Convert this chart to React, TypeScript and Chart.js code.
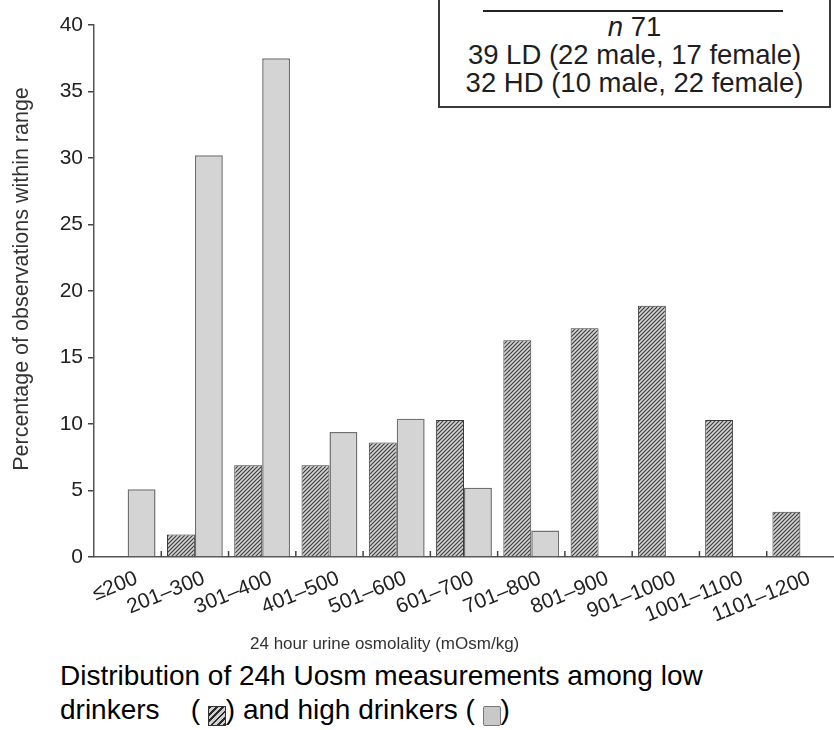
import React, { useEffect, useRef } from "react";
import { Chart, registerables } from "chart.js";

Chart.register(...registerables);

const categories = ["≤200", "201–300", "301–400", "401–500", "501–600", "601–700", "701–800", "801–900", "901–1000", "1001–1100", "1101–1200"];
const lowDrinkers = [0, 1.7, 6.9, 6.9, 8.6, 10.3, 16.3, 17.2, 18.9, 10.3, 3.4];
const highDrinkers = [5.1, 30.2, 37.5, 9.4, 10.4, 5.2, 2.0, 0, 0, 0, 0];
const yMin = 0;
const yMax = 40;
const yStep = 5;
const yTitle = "Percentage of observations within range";
const xTitle = "24 hour urine osmolality (mOsm/kg)";
const boxLines = ["71", "39 LD (22 male, 17 female)", "32 HD (10 male, 22 female)"];

const FONT = "'Liberation Sans', Arial, Helvetica, sans-serif";
const W = 834;
const H = 640;
const AXIS_LEFT = 94;
const BASE_Y = 557;
const TOP_Y = 25;

function makeHatch(): CanvasPattern | string {
  const s = 4;
  const c = document.createElement("canvas");
  c.width = s;
  c.height = s;
  const g = c.getContext("2d");
  if (!g) return "#888";
  g.fillStyle = "#d2d2d2";
  g.fillRect(0, 0, s, s);
  g.strokeStyle = "#3a3a3a";
  g.lineWidth = 1.1;
  g.beginPath();
  g.moveTo(-1, s + 1);
  g.lineTo(s + 1, -1);
  g.moveTo(-1, 1);
  g.lineTo(1, -1);
  g.moveTo(s - 1, s + 1);
  g.lineTo(s + 1, s - 1);
  g.stroke();
  const p = g.createPattern(c, "repeat");
  return p || "#888";
}

const innerTicks = {
  id: "innerTicks",
  afterDatasetsDraw(chart: any) {
    const xs = chart.scales.x;
    const ctx = chart.ctx;
    const bottom = chart.chartArea.bottom;
    ctx.save();
    ctx.strokeStyle = "#444";
    ctx.lineWidth = 1.5;
    for (let i = 1; i < categories.length; i++) {
      const x = (xs.getPixelForValue(i - 1) + xs.getPixelForValue(i)) / 2;
      ctx.beginPath();
      ctx.moveTo(x, bottom);
      ctx.lineTo(x, bottom - 6);
      ctx.stroke();
    }
    ctx.restore();
  },
};

const yTitlePlugin = {
  id: "yTitlePlugin",
  afterDraw(chart: any) {
    const ctx = chart.ctx;
    const area = chart.chartArea;
    ctx.save();
    ctx.translate(22, (area.top + area.bottom) / 2 - 12);
    ctx.rotate(-Math.PI / 2);
    ctx.font = `21.5px ${FONT}`;
    ctx.fillStyle = "#333";
    ctx.textAlign = "center";
    ctx.textBaseline = "middle";
    ctx.fillText(yTitle, 0, 0);
    ctx.restore();
  },
};

export default function App() {
  const ref = useRef<HTMLCanvasElement | null>(null);

  useEffect(() => {
    if (!ref.current) return;
    const hatch = makeHatch();
    const chart = new Chart(ref.current, {
      type: "bar",
      data: {
        labels: categories,
        datasets: [
          {
            label: "Low drinkers",
            data: lowDrinkers.map((v) => (v === 0 ? null : v)),
            backgroundColor: hatch as any,
            borderColor: "#3a3a3a",
            borderWidth: 1,
            categoryPercentage: 0.83,
            barPercentage: 1,
          },
          {
            label: "High drinkers",
            data: highDrinkers.map((v) => (v === 0 ? null : v)),
            backgroundColor: "#d4d4d4",
            borderColor: "#707070",
            borderWidth: 1.5,
            categoryPercentage: 0.83,
            barPercentage: 1,
          },
        ],
      },
      options: {
        responsive: false,
        animation: false,
        devicePixelRatio: 1,
        layout: { padding: { top: TOP_Y, right: 0, left: 0, bottom: 0 } },
        plugins: {
          legend: { display: false },
          tooltip: { enabled: false },
          title: { display: false },
        },
        scales: {
          x: {
            grid: { display: false, drawTicks: false },
            border: { display: true, color: "#555", width: 1.5 },
            ticks: {
              autoSkip: false,
              maxRotation: 22,
              minRotation: 22,
              padding: 9,
              labelOffset: 9,
              color: "#222",
              font: { family: FONT, size: 21 },
            },
            afterFit(scale: any) {
              scale.height = H - BASE_Y;
              scale.paddingLeft = 0;
              scale.paddingRight = 0;
            },
          },
          y: {
            min: yMin,
            max: yMax,
            grid: { drawOnChartArea: false, drawTicks: true, tickLength: 6, color: "#444", lineWidth: 1.5 },
            border: { display: true, color: "#555", width: 1.5 },
            ticks: {
              stepSize: yStep,
              padding: 5,
              color: "#222",
              font: { family: FONT, size: 21 },
            },
            title: { display: false },
            afterFit(scale: any) {
              scale.width = AXIS_LEFT;
            },
          },
        },
      },
      plugins: [innerTicks, yTitlePlugin],
    });
    return () => chart.destroy();
  }, []);

  const iconBase: React.CSSProperties = {
    display: "inline-block",
    width: 18,
    height: 20,
    verticalAlign: -7,
    boxSizing: "border-box",
  };

  return (
    <div style={{ position: "absolute", left: 0, top: 0, width: W, height: 730, overflow: "hidden", background: "#fff" }}>
      <canvas ref={ref} width={W} height={H} style={{ position: "absolute", left: 0, top: 0, width: W, height: H }} />
      <div
        style={{
          position: "absolute",
          left: 438,
          top: -4,
          width: 393,
          height: 112,
          boxSizing: "border-box",
          border: "2px solid #3a3a3a",
          background: "#fff",
          fontFamily: FONT,
          color: "#1e1e1e",
          fontSize: 27.5,
        }}
      >
        <div style={{ position: "absolute", left: 43, top: 12, width: 300, height: 2, background: "#222" }} />
        <div style={{ position: "absolute", left: 0, right: 0, top: 14, textAlign: "center", lineHeight: "30px" }}>
          <i>n</i> {boxLines[0]}
        </div>
        <div style={{ position: "absolute", left: 0, right: 0, top: 42, textAlign: "center", lineHeight: "30px" }}>{boxLines[1]}</div>
        <div style={{ position: "absolute", left: 0, right: 0, top: 70, textAlign: "center", lineHeight: "30px" }}>{boxLines[2]}</div>
      </div>
      <div
        style={{
          position: "absolute",
          left: 250,
          top: 634,
          fontFamily: FONT,
          fontSize: 17,
          color: "#333",
          whiteSpace: "nowrap",
        }}
      >
        {xTitle}
      </div>
      <div
        style={{
          position: "absolute",
          left: 60,
          top: 659,
          fontFamily: FONT,
          fontSize: 28,
          lineHeight: "34px",
          color: "#000",
          whiteSpace: "pre",
        }}
      >
        {"Distribution of 24h Uosm measurements among low\ndrinkers    ( "}
        <span
          style={{
            ...iconBase,
            border: "1.5px solid #333",
            background: "repeating-linear-gradient(135deg, #2a2a2a 0 2px, #d0d0d0 2px 4.5px)",
          }}
        />
        {") and high drinkers ( "}
        <span
          style={{
            ...iconBase,
            border: "1.5px solid #777",
            borderRadius: 2,
            background: "#c8c8c8",
          }}
        />
        {")"}
      </div>
    </div>
  );
}
